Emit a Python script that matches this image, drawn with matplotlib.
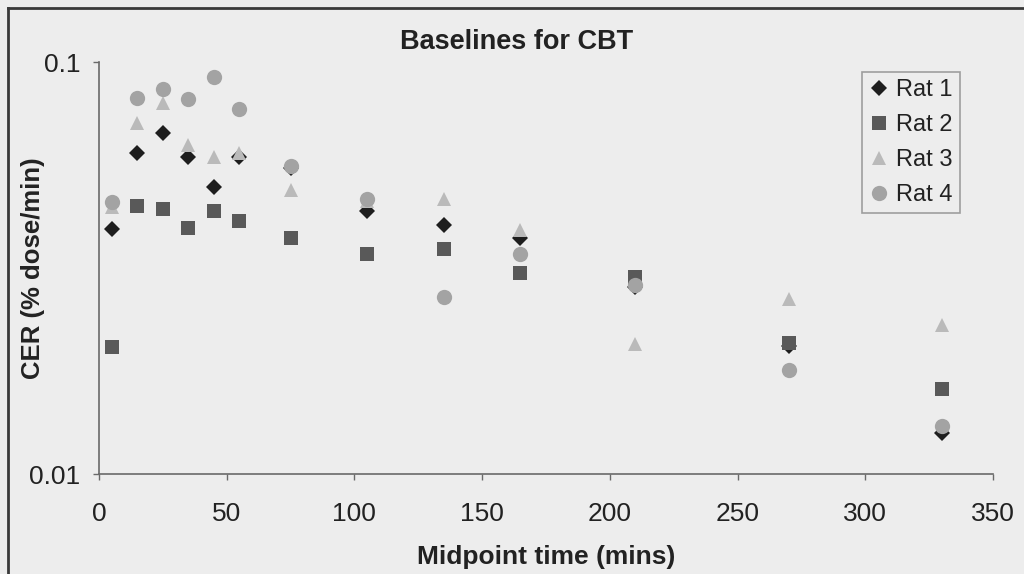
import matplotlib

matplotlib.use("Agg")
import matplotlib.pyplot as plt
from matplotlib.lines import Line2D
from matplotlib.ticker import FixedLocator, NullLocator, FixedFormatter

plt.rcParams["font.family"] = ["Liberation Sans", "DejaVu Sans"]

# ── Data ──────────────────────────────────────────────────────────────

midpoint_mins = [5, 15, 25, 35, 45, 55, 75, 105, 135, 165, 210, 270, 330]

rat1 = [0.0393, 0.0601, 0.0672, 0.0588, 0.0497, 0.0588, 0.0553,
        0.0435, 0.0402, 0.0374, 0.0284, 0.0205, 0.0126]
rat2 = [0.0203, 0.0447, 0.0440, 0.0395, 0.0435, 0.0411, 0.0374,
        0.0342, 0.0352, 0.0308, 0.0301, 0.0208, 0.0161]
rat3 = [0.0445, 0.0710, 0.0794, 0.0628, 0.0588, 0.0601, 0.0489,
        0.0460, 0.0465, 0.0391, 0.0207, 0.0266, 0.0230]
rat4 = [0.0457, 0.0817, 0.0859, 0.0812, 0.0918, 0.0768, 0.0559,
        0.0465, 0.0269, 0.0342, 0.0288, 0.0179, 0.0131]

series_names = ["Rat 1", "Rat 2", "Rat 3", "Rat 4"]
y_tick_values = [0.01, 0.1]
y_tick_labels = ["0.01", "0.1"]
x_tick_values = [0, 50, 100, 150, 200, 250, 300, 350]

# ── Style ─────────────────────────────────────────────────────────────

BG = "#ededed"
INK = "#222222"
AXIS = "#6a6a6a"
STYLES = [
    dict(marker="D", color="#1e1e1e", ms=8),
    dict(marker="s", color="#595959", ms=10.5),
    dict(marker="^", color="#bababa", ms=10.5),
    dict(marker="o", color="#a3a3a3", ms=11),
]

fig = plt.figure(figsize=(10.24, 5.74), dpi=100, facecolor=BG)

# frame of the chart object (top and left edges)
fig.add_artist(Line2D([8 / 1024, 1.0], [1 - 8 / 574] * 2, color="#3a3a3a", lw=2))
fig.add_artist(Line2D([8 / 1024] * 2, [0, 1 - 8 / 574], color="#3a3a3a", lw=2))

# ── Plot ──────────────────────────────────────────────────────────────

ax = fig.add_axes([99 / 1024, 1 - 474 / 574, (993 - 99) / 1024, (474 - 62) / 574])
ax.set_facecolor("none")

for values, name, st in zip([rat1, rat2, rat3, rat4], series_names, STYLES):
    ax.plot(midpoint_mins, values, linestyle="none", marker=st["marker"],
            markersize=st["ms"], color=st["color"], markeredgewidth=0,
            label=name, clip_on=False)

ax.set_yscale("log")
ax.set_ylim(0.01, 0.1)
ax.set_xlim(0, 350)
ax.yaxis.set_major_locator(FixedLocator(y_tick_values))
ax.yaxis.set_major_formatter(FixedFormatter(y_tick_labels))
ax.yaxis.set_minor_locator(NullLocator())
ax.set_xticks(x_tick_values)

for side in ["top", "right"]:
    ax.spines[side].set_visible(False)
for side in ["left", "bottom"]:
    ax.spines[side].set_color(AXIS)
    ax.spines[side].set_linewidth(1.2)

ax.tick_params(axis="y", direction="out", length=4.5, width=1, color=AXIS,
               labelsize=19, pad=9, labelcolor=INK)
ax.tick_params(axis="x", direction="out", length=4.5, width=1, color=AXIS,
               labelsize=19, pad=16, labelcolor=INK)

fig.text(517 / 1024, 1 - 42 / 574, "Baselines for CBT", ha="center",
         va="center", fontsize=19.5, fontweight="bold", color=INK)
fig.text(546 / 1024, 1 - 557 / 574, "Midpoint time (mins)", ha="center",
         va="center", fontsize=19, fontweight="bold", color=INK)
fig.text(33 / 1024, 1 - 268 / 574, "CER (% dose/min)", ha="center",
         va="center", rotation=90, fontsize=18.5, fontweight="bold",
         color=INK)

leg = ax.legend(loc="upper left", bbox_to_anchor=(862 / 1024, 1 - 72 / 574),
                bbox_transform=fig.transFigure, fontsize=17, frameon=True,
                fancybox=False, borderpad=0.3, labelspacing=0.55,
                handlelength=0.8, handletextpad=0.35, borderaxespad=0,
                markerscale=1.0)
leg.get_frame().set_edgecolor("#8a8a8a")
leg.get_frame().set_linewidth(1.2)
leg.get_frame().set_facecolor(BG)
for t in leg.get_texts():
    t.set_color(INK)

fig.savefig("out.png", dpi=100, facecolor=BG)
